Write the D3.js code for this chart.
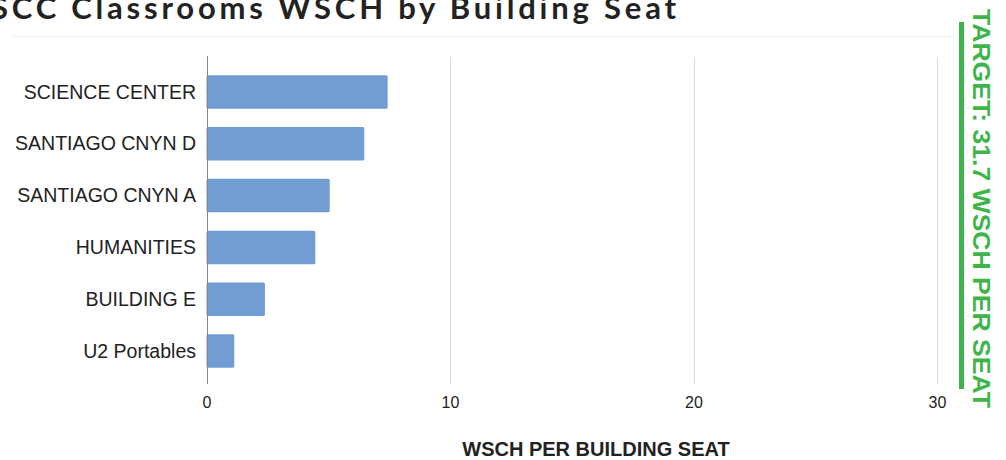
<!DOCTYPE html>
<html><head><meta charset="utf-8">
<script src="https://cdn.jsdelivr.net/npm/d3@7"></script>
<style>
html,body{margin:0;padding:0;background:#fff;overflow:hidden;}
svg{display:block;}
</style></head>
<body>
<svg id="c" width="1006" height="460"></svg>
<script>
const categories = ["SCIENCE CENTER","SANTIAGO CNYN D","SANTIAGO CNYN A","HUMANITIES","BUILDING E","U2 Portables"];
const values = [7.44, 6.48, 5.06, 4.47, 2.40, 1.14];
const xTicks = [0, 10, 20, 30];
const titleText = "SCC Classrooms WSCH by Building Seat";
const xAxisTitle = "WSCH PER BUILDING SEAT";
const targetText = "TARGET: 31.7 WSCH PER SEAT";

const svg = d3.select("#c");
const x = d3.scaleLinear().domain([0, 30]).range([206.5, 937]);
const y = d3.scaleBand().domain(categories).range([66, 377]).paddingInner(0.355).paddingOuter(0.1775);
const plotTop = 57, plotBottom = 384;

// title (cut at the left edge, as in the reference)
svg.append("text").attr("x", -9).attr("y", 19)
  .attr("textLength", 685).attr("lengthAdjust", "spacing")
  .style("font-family", "Lato, 'Open Sans', sans-serif").style("font-weight", 700)
  .style("font-size", "31px").attr("fill", "#222").text(titleText);

// faint separator
svg.append("line").attr("x1", 12).attr("x2", 955).attr("y1", 36.5).attr("y2", 36.5)
  .attr("stroke", "#f0f0f0").attr("stroke-width", 1);

// gridlines
svg.append("g").selectAll("line").data(xTicks.filter(d => d !== 0)).join("line")
  .attr("x1", d => Math.round(x(d)) + 0.5).attr("x2", d => Math.round(x(d)) + 0.5)
  .attr("y1", plotTop).attr("y2", plotBottom)
  .attr("stroke", "#dcdcdc").attr("stroke-width", 1);

// bars
svg.append("g").selectAll("rect").data(categories).join("rect")
  .attr("x", x(0)).attr("y", d => y(d))
  .attr("width", (d, i) => x(values[i]) - x(0)).attr("height", y.bandwidth())
  .attr("rx", 1.5)
  .attr("fill", "#729dd3");

// axis line at zero
svg.append("line").attr("x1", Math.round(x(0)) + 0.5).attr("x2", Math.round(x(0)) + 0.5)
  .attr("y1", plotTop - 1).attr("y2", plotBottom).attr("stroke", "#888").attr("stroke-width", 1);

// category labels
svg.append("g").selectAll("text").data(categories).join("text")
  .attr("x", 196).attr("y", d => y(d) + y.bandwidth() / 2)
  .attr("dy", "0.34em").attr("text-anchor", "end")
  .style("font-family", "'Liberation Sans', Arial, sans-serif").style("font-size", "19.5px")
  .attr("fill", "#222").text(d => d);

// x tick labels
const xAxis = d3.axisBottom(x).tickValues(xTicks).tickSize(0).tickPadding(0);
const gx = svg.append("g").attr("transform", `translate(0,${plotBottom})`).call(xAxis);
gx.select(".domain").remove();
gx.selectAll("text").attr("y", 24).attr("dy", 0)
  .style("font-family", "'Liberation Sans', Arial, sans-serif").style("font-size", "16px")
  .attr("fill", "#222");

// x axis title
svg.append("text").attr("x", 596).attr("y", 456).attr("text-anchor", "middle")
  .style("font-family", "'Liberation Sans', Arial, sans-serif").style("font-weight", 700)
  .style("font-size", "20px").attr("fill", "#222").text(xAxisTitle);

// target marker
svg.append("rect").attr("x", 959).attr("y", 22).attr("width", 5).attr("height", 367).attr("fill", "#3db54a");
svg.append("text").attr("transform", "translate(973,9) rotate(90)")
  .attr("x", 0).attr("y", 0)
  .attr("textLength", 399).attr("lengthAdjust", "spacingAndGlyphs")
  .style("font-family", "'Liberation Sans', Arial, sans-serif").style("font-weight", 700)
  .style("font-size", "23px").attr("fill", "#3db54a").text(targetText);
</script>
</body></html>
